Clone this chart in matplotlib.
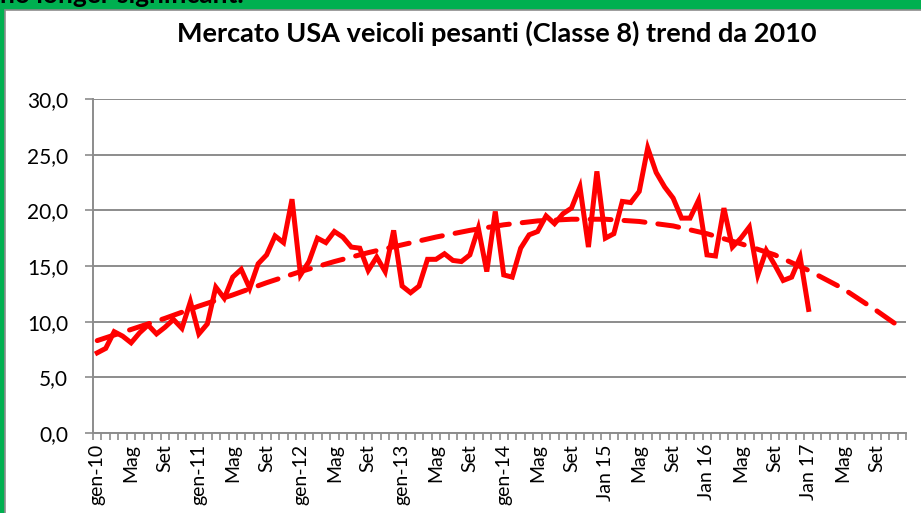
#!/usr/bin/env python3

import numpy as np
import matplotlib
matplotlib.use('Agg')
import matplotlib.pyplot as plt
from matplotlib.patches import Rectangle
from matplotlib.transforms import Bbox, TransformedBbox
from matplotlib.ticker import FixedLocator, FuncFormatter

plt.rcParams['font.family'] = ['Lato', 'DejaVu Sans']

# Monthly orders (thousand units), gen-10 .. Jan 17
orders = [7.2, 7.6, 9.1, 8.7, 8.1, 9.0, 9.7, 8.9, 9.5, 10.2, 9.4, 11.8,
          8.9, 9.8, 13.1, 12.1, 14.0, 14.7, 13.0, 15.2, 16.0, 17.7, 17.1, 21.0,
          14.2, 15.4, 17.5, 17.1, 18.1, 17.6, 16.7, 16.6, 14.6, 15.8, 14.5, 18.2,
          13.2, 12.6, 13.2, 15.6, 15.6, 16.1, 15.5, 15.4, 16.0, 18.4, 14.5, 19.9,
          14.2, 14.0, 16.6, 17.8, 18.1, 19.5, 18.8, 19.7, 20.2, 22.1, 16.7, 23.5,
          17.5, 17.9, 20.8, 20.7, 21.7, 25.6, 23.4, 22.1, 21.1, 19.3, 19.3, 20.9,
          16.0, 15.9, 20.2, 16.7, 17.5, 18.5, 14.2, 16.4, 15.1, 13.7, 14.0, 15.8,
          11.1]

# Trend line (month index, value)
trend_month = [0, 4, 8, 12, 16, 20, 24, 28, 32, 36, 40, 44, 48,
               52, 56, 60, 64, 68, 72, 76, 80, 84, 88, 92, 95]
trend_value = [8.3, 9.3, 10.3, 11.4, 12.4, 13.5, 14.5, 15.4, 16.2, 16.9, 17.6, 18.2, 18.7,
               19.05, 19.2, 19.2, 19.0, 18.6, 17.9, 17.0, 16.0, 14.6, 13.0, 11.0, 9.4]

month_labels = ['gen-10', 'Mag', 'Set', 'gen-11', 'Mag', 'Set', 'gen-12', 'Mag', 'Set',
                'gen-13', 'Mag', 'Set', 'gen-14', 'Mag', 'Set', 'Jan 15', 'Mag', 'Set',
                'Jan 16', 'Mag', 'Set', 'Jan 17', 'Mag', 'Set']
n_months = 96

fig = plt.figure(figsize=(9.21, 5.13), dpi=100)
fig.patch.set_facecolor('#00B050')

# white panel inside the green frame
band = 10 / 513
fig.patches.append(Rectangle((5 / 921, -0.01), 1.0, 1.01 - band, transform=fig.transFigure,
                             facecolor='white', edgecolor='#8c8c8c', linewidth=1.2, zorder=-10))

# banner text from the slide above, only its lower part shows in the green strip
banner = fig.text(0.0, 1 - 3 / 513, 'no longer significant.', fontsize=19, fontweight='bold',
                  ha='left', va='baseline', color='black')
banner.set_clip_box(TransformedBbox(Bbox([[0, 1 - band], [1, 1]]), fig.transFigure))
banner.set_clip_on(True)

ax = fig.add_axes([93 / 921, 1 - 433 / 513, (906 - 93) / 921, (433 - 99) / 513])
ax.set_zorder(1)
ax.set_facecolor('none')

x = np.arange(len(orders))
ax.plot(x, orders, color='red', lw=3.6, solid_joinstyle='miter', zorder=3)
ax.plot(trend_month, trend_value, color='red', lw=3.6, linestyle=(0, (4.2, 2.6)),
        dash_capstyle='round', zorder=3)

ax.set_xlim(-0.5, n_months - 0.5)
ax.set_ylim(0, 30)
ax.set_yticks(np.arange(0, 31, 5))
ax.yaxis.set_major_formatter(FuncFormatter(lambda v, p: f'{v:.1f}'.replace('.', ',')))
ax.grid(axis='y', color='#8c8c8c', lw=1.4)
ax.set_axisbelow(True)

ax.set_xticks(np.arange(0, n_months, 4))
ax.set_xticklabels(month_labels, rotation=90, fontsize=14)
ax.xaxis.set_minor_locator(FixedLocator(np.arange(-0.5, n_months, 1)))
ax.tick_params(axis='x', which='major', length=0, pad=8)
ax.tick_params(axis='x', which='minor', length=5, color='#8c8c8c', width=1.2)
ax.tick_params(axis='y', length=6, color='#8c8c8c', width=1.2, labelsize=15, pad=12)

for side in ['top', 'right']:
    ax.spines[side].set_visible(False)
for side in ['left', 'bottom']:
    ax.spines[side].set_color('#8c8c8c')
    ax.spines[side].set_linewidth(1.4)

fig.text(497 / 921, 1 - 33 / 513, 'Mercato USA veicoli pesanti (Classe 8) trend da 2010',
         fontsize=19.5, fontweight='bold', ha='center', va='center')

fig.savefig('out.png', dpi=100, facecolor=fig.get_facecolor())
